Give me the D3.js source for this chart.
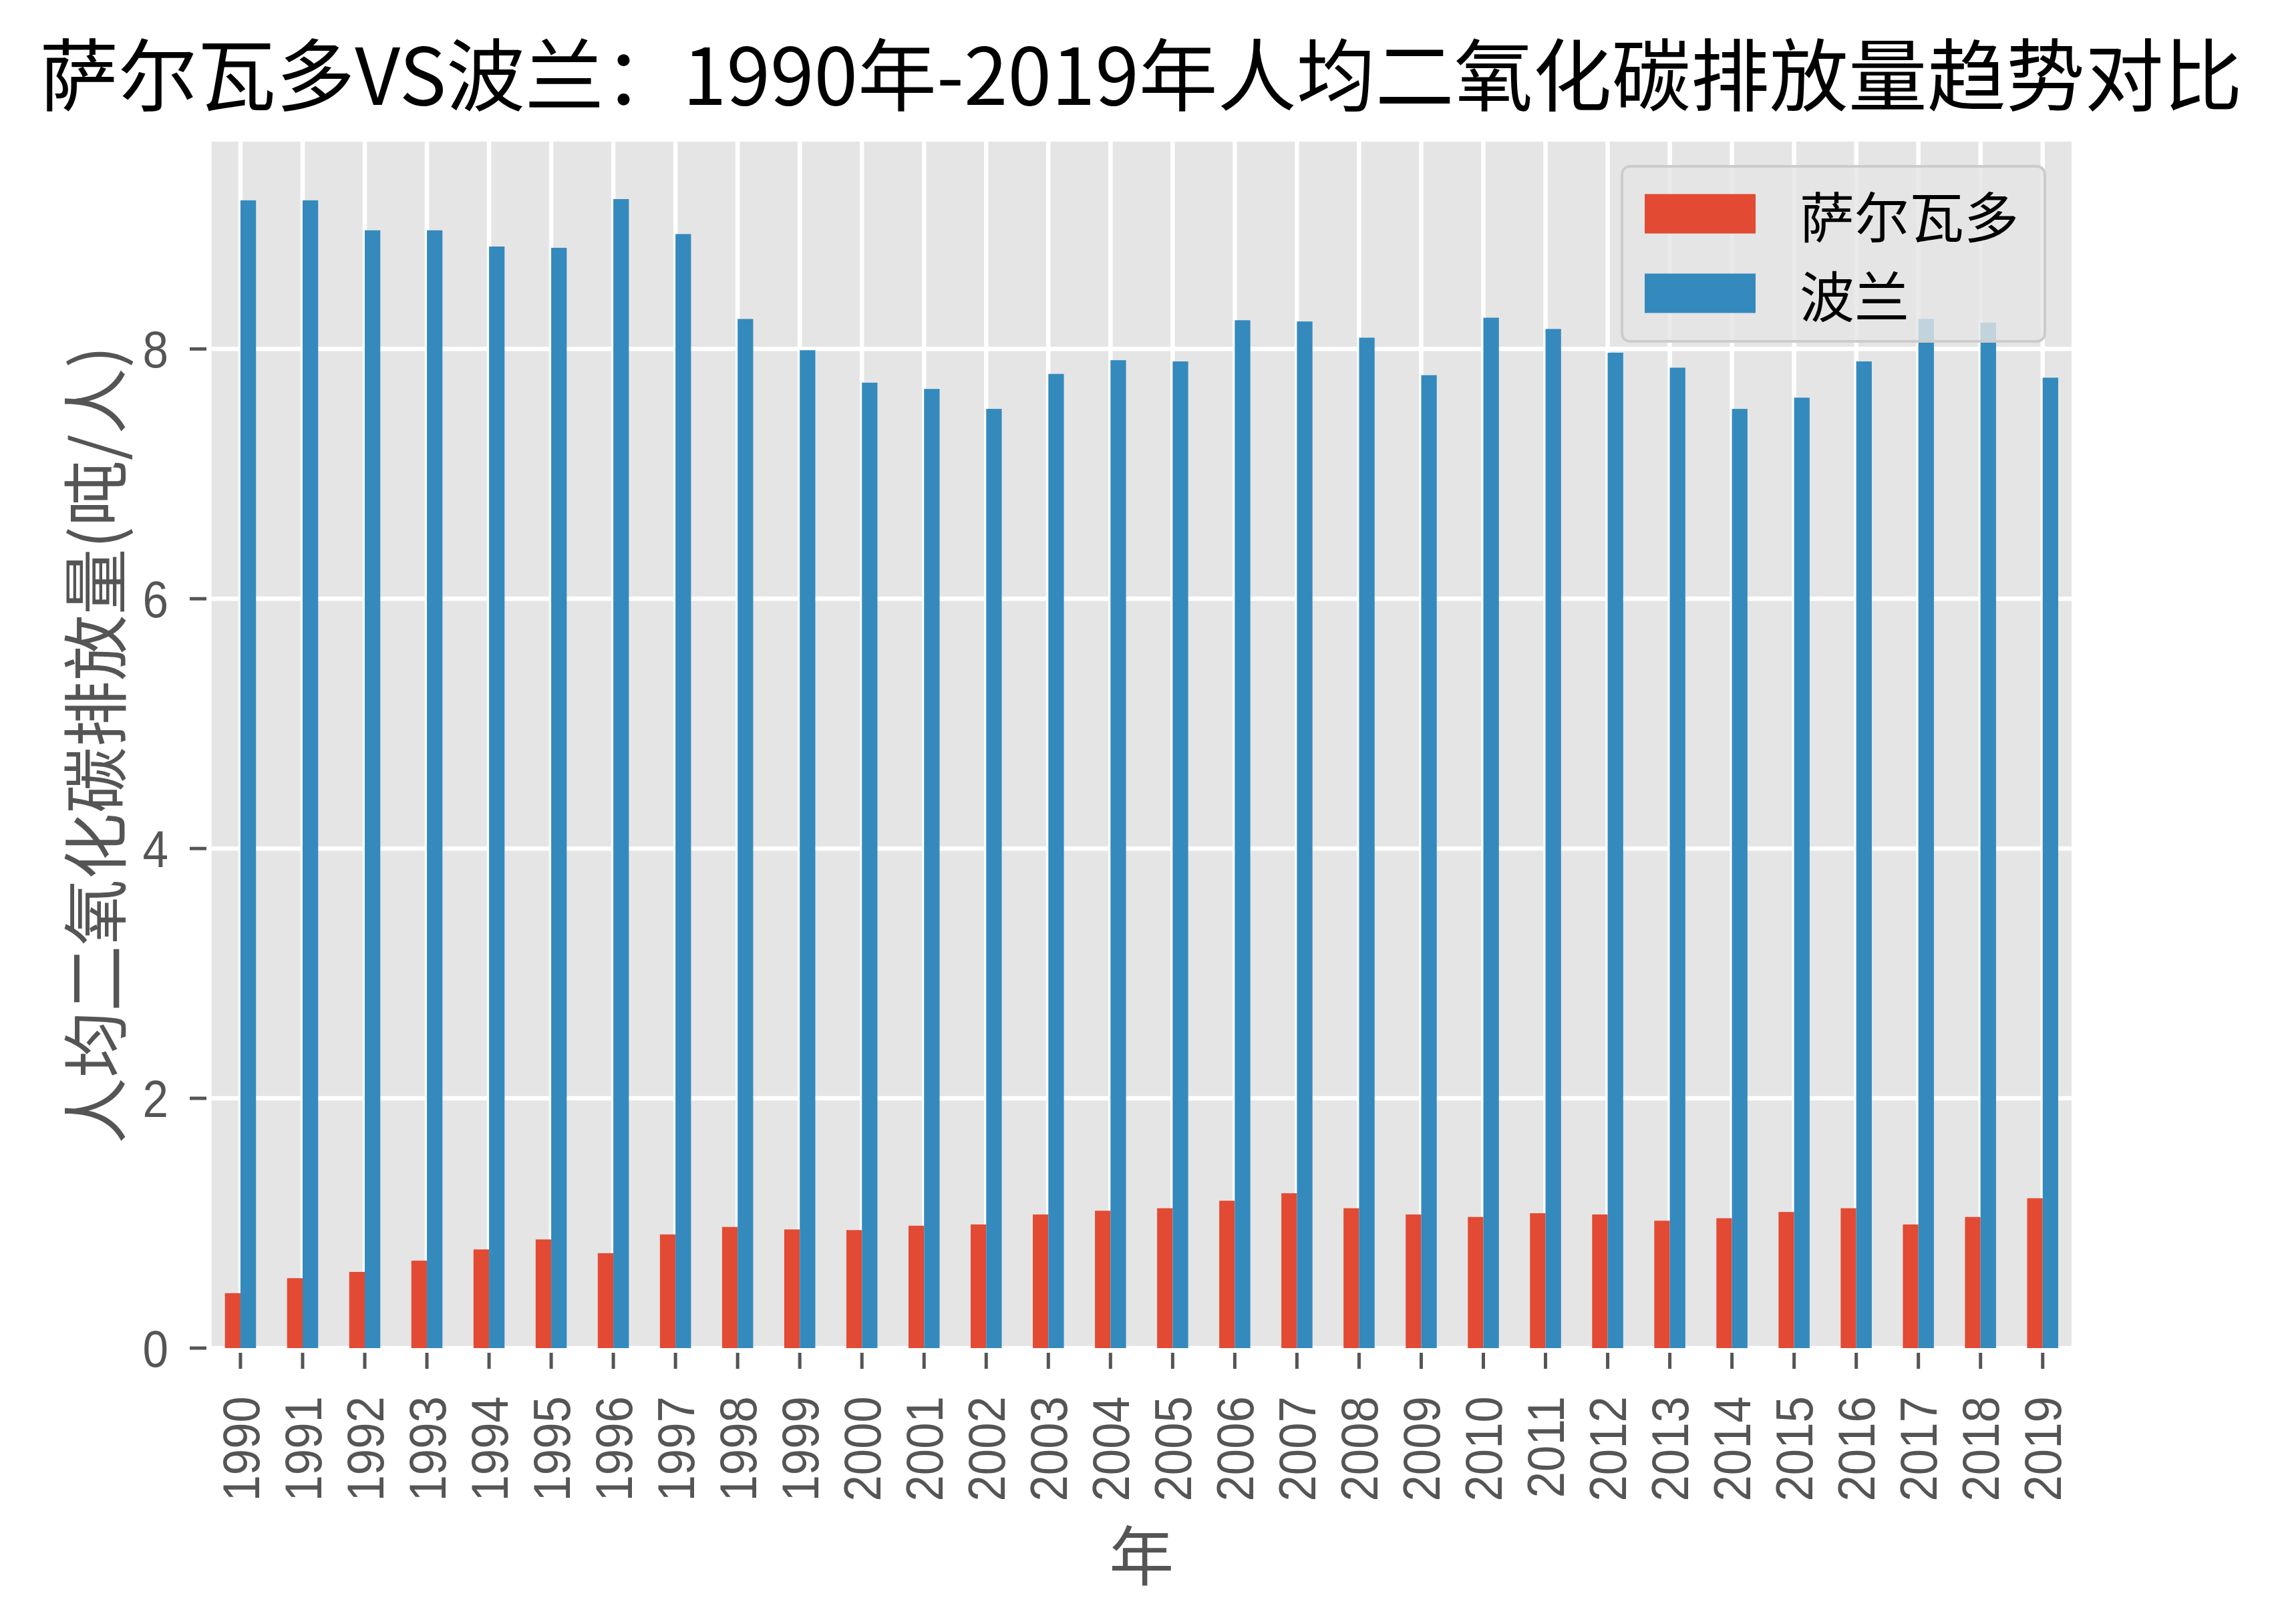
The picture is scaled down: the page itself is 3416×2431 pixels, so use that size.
<!DOCTYPE html>
<html><head><meta charset="utf-8">
<script src="https://cdn.jsdelivr.net/npm/d3@7"></script>
<style>html,body{margin:0;padding:0;background:#fff;}</style>
</head><body>
<svg id="chart" width="3416" height="2431"></svg>
<script>
const years = ["1990","1991","1992","1993","1994","1995","1996","1997","1998","1999","2000","2001","2002","2003","2004","2005","2006","2007","2008","2009","2010","2011","2012","2013","2014","2015","2016","2017","2018","2019"];
const elSalvador = [0.44,0.56,0.61,0.70,0.79,0.87,0.76,0.91,0.97,0.95,0.945,0.98,0.99,1.07,1.10,1.12,1.18,1.24,1.12,1.07,1.05,1.08,1.07,1.02,1.04,1.09,1.12,0.99,1.05,1.20];
const poland = [9.19,9.19,8.95,8.95,8.82,8.81,9.20,8.92,8.24,7.99,7.73,7.68,7.52,7.80,7.91,7.90,8.23,8.22,8.09,7.79,8.25,8.16,7.97,7.85,7.52,7.61,7.90,8.24,8.21,7.77];
const seriesNames = ["萨尔瓦多","波兰"];
const yTicks = [0,2,4,6,8];
const titleText = "萨尔瓦多VS波兰：1990年-2019年人均二氧化碳排放量趋势对比";
const yLabel = "人均二氧化碳排放量(吨/人)";
const xLabel = "年";

const colors = ["#E24A33","#348ABD"];
const CJK = "'Noto Sans CJK SC', sans-serif";
const LAT = "'Liberation Sans', Arial, sans-serif";

const svg = d3.select("#chart");
const L = 316.7, R = 3101, T = 212, B = 2018;

const x = d3.scaleLinear().domain([-0.465, years.length - 1 + 0.465]).range([L, R]);
const yMax = d3.max(poland.concat(elSalvador)) * 1.05;
const y = d3.scaleLinear().domain([0, yMax]).range([B, T]);
const step = x(1) - x(0);
const bw = step * 0.25;

// background
svg.append("rect").attr("x", L).attr("y", T).attr("width", R - L).attr("height", B - T).attr("fill", "#E5E5E5");

// grid
const g = svg.append("g");
g.selectAll("line.vg").data(years).join("line")
  .attr("x1", (d,i) => x(i)).attr("x2", (d,i) => x(i)).attr("y1", T).attr("y2", B)
  .attr("stroke", "#fff").attr("stroke-width", 6.5);
g.selectAll("line.hg").data(yTicks).join("line")
  .attr("x1", L).attr("x2", R).attr("y1", d => y(d)).attr("y2", d => y(d))
  .attr("stroke", "#fff").attr("stroke-width", 6.5);

// bars
const series = [elSalvador, poland];
series.forEach((vals, s) => {
  svg.append("g").selectAll("rect").data(vals).join("rect")
    .attr("x", (d,i) => x(i) + (s === 0 ? -bw : 0))
    .attr("width", bw)
    .attr("y", d => y(d))
    .attr("height", d => B - y(d))
    .attr("fill", colors[s]);
});

// y axis
const yAxis = svg.append("g");
yAxis.selectAll("line").data(yTicks).join("line")
  .attr("x1", 284).attr("x2", 309).attr("y1", d => y(d)).attr("y2", d => y(d))
  .attr("stroke", "#555555").attr("stroke-width", 5);
yAxis.selectAll("text").data(yTicks).join("text")
  .attr("transform", d => `translate(252,${y(d)}) scale(0.9,1)`)
  .attr("dy", "0.36em")
  .attr("text-anchor", "end").attr("font-family", LAT).attr("font-size", 77)
  .attr("fill", "#555555").text(d => d);

// x axis
const xAxis = svg.append("g");
xAxis.selectAll("line").data(years).join("line")
  .attr("x1", (d,i) => x(i)).attr("x2", (d,i) => x(i)).attr("y1", 2025).attr("y2", 2049)
  .attr("stroke", "#555555").attr("stroke-width", 5);
xAxis.selectAll("text").data(years).join("text")
  .attr("transform", (d,i) => `translate(${x(i)},2090) rotate(-90) scale(0.92,1)`)
  .attr("dy", "0.36em").attr("text-anchor", "end")
  .attr("font-family", LAT).attr("font-size", 77).attr("fill", "#555555").text(d => d);

// axis labels
svg.append("text").attr("transform", `translate(137,${(T+B)/2}) rotate(-90)`)
  .attr("text-anchor", "middle").attr("dominant-baseline", "central")
  .attr("font-family", CJK).attr("font-size", 99).attr("fill", "#555555").text(yLabel);
svg.append("text").attr("x", (L+R)/2).attr("y", 2322)
  .attr("text-anchor", "middle").attr("dominant-baseline", "central")
  .attr("font-family", CJK).attr("font-size", 97).attr("fill", "#555555").text(xLabel);

// title
svg.append("text").attr("x", 1708).attr("y", 157)
  .attr("text-anchor", "middle").attr("font-family", CJK).attr("font-size", 118)
  .attr("fill", "#000").text(titleText);

// legend
const lg = svg.append("g");
lg.append("rect").attr("x", 2428).attr("y", 249).attr("width", 633).attr("height", 262)
  .attr("rx", 12).attr("ry", 12).attr("fill", "#E5E5E5").attr("fill-opacity", 0.8)
  .attr("stroke", "#CCCCCC").attr("stroke-width", 4);
const legendY = [320, 439];
seriesNames.forEach((name, s) => {
  lg.append("rect").attr("x", 2462).attr("y", legendY[s] - 29.5).attr("width", 166).attr("height", 59).attr("fill", colors[s]);
  lg.append("text").attr("x", 2694).attr("y", legendY[s]).attr("dominant-baseline", "central")
    .attr("font-family", CJK).attr("font-size", 82).attr("fill", "#000").text(name);
});
</script>
</body></html>
